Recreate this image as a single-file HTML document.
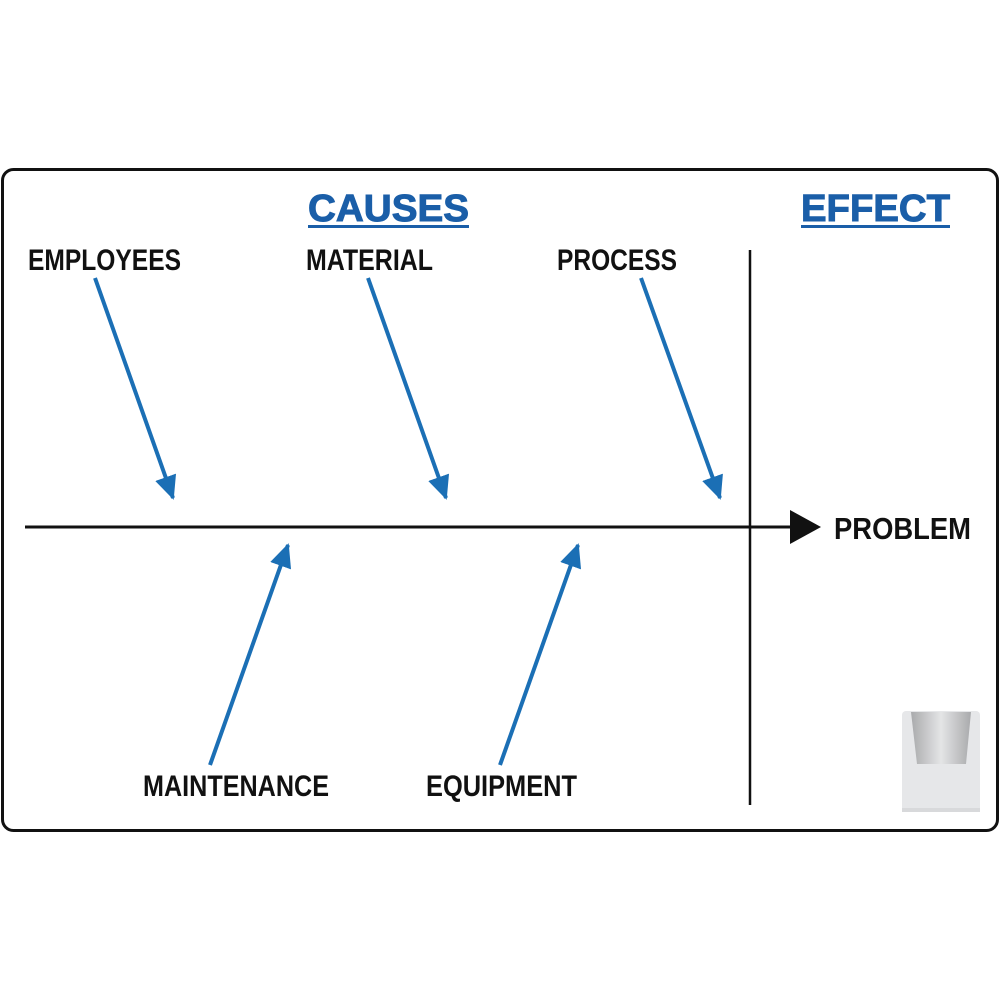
<!DOCTYPE html>
<html><head><meta charset="utf-8"><style>
html,body{margin:0;padding:0;background:#fff;width:1000px;height:1000px;overflow:hidden}
</style></head><body>
<svg width="1000" height="1000" viewBox="0 0 1000 1000" xmlns="http://www.w3.org/2000/svg">
<defs>
<marker id="bh" markerUnits="userSpaceOnUse" markerWidth="26" markerHeight="24" refX="22" refY="12" orient="auto">
<path d="M0,1 L24,12 L0,23 Z" fill="#1b6fb5"/>
</marker>
<linearGradient id="cup" x1="0" x2="1" y1="0" y2="0">
<stop offset="0" stop-color="#a9aaac"/><stop offset="0.5" stop-color="#e4e5e6"/><stop offset="1" stop-color="#a9aaac"/>
</linearGradient>
</defs>
<rect x="2.5" y="169.5" width="995" height="661" rx="11" fill="#fff" stroke="#111" stroke-width="3"/>
<g font-family="'Liberation Sans',sans-serif" font-weight="bold" fill="#1a5ea8" stroke="#1a5ea8" stroke-width="1">
<text x="308" y="221" font-size="38" textLength="161" lengthAdjust="spacingAndGlyphs">CAUSES</text>
<text x="801" y="221" font-size="38" textLength="149" lengthAdjust="spacingAndGlyphs">EFFECT</text>
</g>
<rect x="308" y="225" width="161" height="3" fill="#1a5ea8"/>
<rect x="801" y="225" width="149" height="3" fill="#1a5ea8"/>
<g font-family="'Liberation Sans Narrow','Liberation Sans',sans-serif" font-weight="bold" fill="#111" font-size="30">
<text x="28" y="270" textLength="153" lengthAdjust="spacingAndGlyphs">EMPLOYEES</text>
<text x="306" y="270" textLength="127" lengthAdjust="spacingAndGlyphs">MATERIAL</text>
<text x="557" y="270" textLength="120" lengthAdjust="spacingAndGlyphs">PROCESS</text>
<text x="143" y="796" textLength="186" lengthAdjust="spacingAndGlyphs">MAINTENANCE</text>
<text x="426" y="796" textLength="151" lengthAdjust="spacingAndGlyphs">EQUIPMENT</text>
<text x="834" y="539" textLength="137" lengthAdjust="spacingAndGlyphs" font-size="31">PROBLEM</text>
</g>
<line x1="750" y1="250" x2="750" y2="805" stroke="#111" stroke-width="2.5"/>
<line x1="25" y1="527" x2="795" y2="527" stroke="#111" stroke-width="3"/>
<polygon points="790,510 821,527 790,544" fill="#111"/>
<g stroke="#1b6fb5" stroke-width="4" marker-end="url(#bh)">
<line x1="95" y1="278" x2="173" y2="498"/>
<line x1="368" y1="278" x2="446" y2="498"/>
<line x1="641" y1="278" x2="720" y2="498"/>
<line x1="210" y1="765" x2="288" y2="545"/>
<line x1="500" y1="765" x2="578" y2="545"/>
</g>
<rect x="902" y="711" width="78" height="101" rx="4" fill="#e6e7e9"/>
<rect x="902" y="808" width="78" height="4" fill="#d8d9db"/>
<path d="M911,712 L971,712 L966,764 L917,764 Z" fill="url(#cup)"/>
</svg>
</body></html>
